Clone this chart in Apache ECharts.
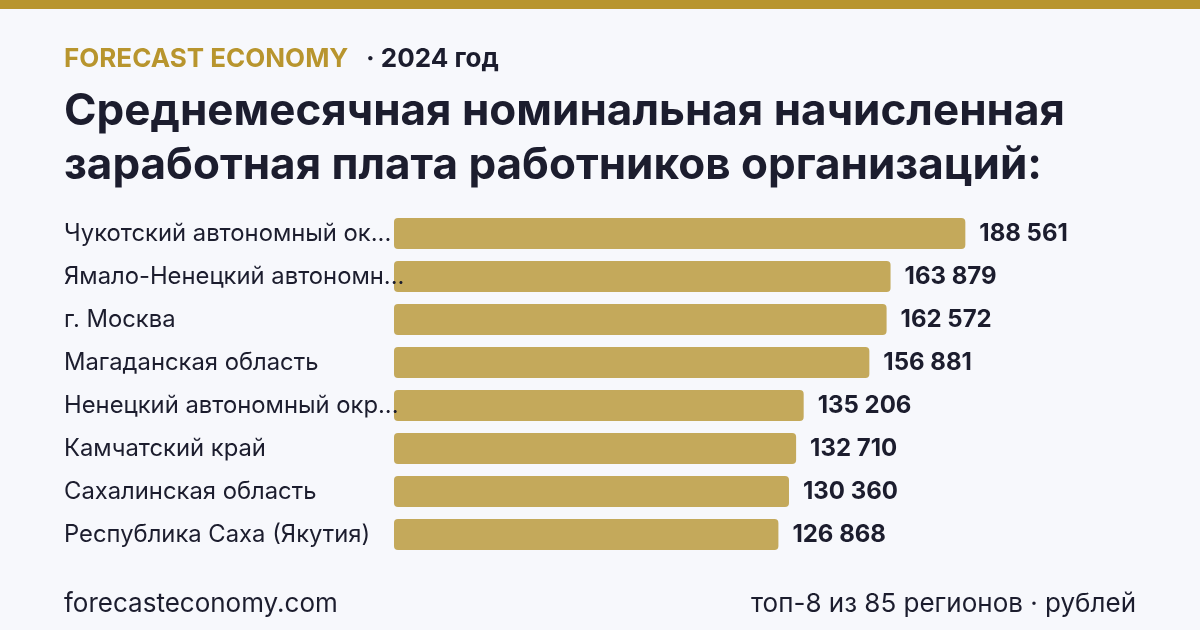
<!DOCTYPE html>
<html>
<head>
<meta charset="utf-8">
<script src="https://cdn.jsdelivr.net/npm/echarts@6/dist/echarts.min.js"></script>
<style>
  html, body { margin: 0; padding: 0; background: #f7f8fc; }
  #chart { width: 1200px; height: 630px; }
</style>
</head>
<body>
<div id="chart"></div>
<script>
// регионы, сверху вниз
const regions = [
  'Чукотский автономный округ',
  'Ямало-Ненецкий автономный округ',
  'г. Москва',
  'Магаданская область',
  'Ненецкий автономный округ',
  'Камчатский край',
  'Сахалинская область',
  'Республика Саха (Якутия)'
]
const salaries = [188561, 163879, 162572, 156881, 135206, 132710, 130360, 126868]

const brand = 'FORECAST ECONOMY'
const yearText = '· 2024 год'
const titleLines = [
  'Среднемесячная номинальная начисленная',
  'заработная плата работников организаций:'
]
const footLeft = 'forecasteconomy.com'
const footRight = 'топ-8 из 85 регионов · рублей'

const font = 'Inter'
const dark = '#1c1d2e'
const gold = '#b8952e'

const fmt = function (v) {
  return String(v).replace(/\B(?=(\d{3})+(?!\d))/g, ' ')
}

// длинные названия обрезаем до 23 символов
const cut = function (s) {
  return s.length > 24 ? s.slice(0, 23) + '...' : s
}

const chart = echarts.init(document.getElementById('chart'))

chart.setOption({
  backgroundColor: '#f7f8fc',
  animation: false,
  textStyle: { fontFamily: font },
  graphic: [
    { type: 'rect', left: 0, top: 0, shape: { width: 1200, height: 9 }, style: { fill: gold } },
    {
      type: 'text', left: 64, top: 46,
      style: { text: brand, fill: gold, font: 'bold 26px Inter' }
    },
    {
      type: 'text', left: 366, top: 46,
      style: { text: yearText, fill: dark, font: 'bold 26px Inter' }
    },
    {
      type: 'text', left: 64, top: 85,
      style: { text: titleLines.join('\n'), fill: dark, font: 'bold 44px Inter', lineHeight: 54 }
    },
    {
      type: 'text', left: 64, top: 591,
      style: { text: footLeft, fill: dark, font: '26px Inter' }
    },
    {
      type: 'text', right: 64, top: 591,
      style: { text: footRight, fill: dark, font: '26px Inter', align: 'right' }
    }
  ],
  grid: { left: 394, right: 200, top: 212, height: 344 },
  xAxis: {
    type: 'value', min: 0, max: 200000,
    show: false
  },
  yAxis: {
    type: 'category',
    inverse: true,
    z: 5,
    data: regions,
    axisLine: { show: false },
    axisTick: { show: false },
    splitLine: { show: false },
    axisLabel: {
      align: 'left',
      margin: 330,
      color: dark,
      fontSize: 23.8,
      fontFamily: font,
      formatter: cut
    }
  },
  series: [{
    type: 'bar',
    data: salaries,
    barWidth: 31,
    itemStyle: { color: '#c4a95b', borderRadius: 4 },
    label: {
      show: true,
      position: 'right',
      distance: 14,
      color: dark,
      fontSize: 24,
      fontWeight: 'bold',
      fontFamily: font,
      formatter: function (p) { return fmt(p.value) }
    }
  }]
})
</script>
</body>
</html>
